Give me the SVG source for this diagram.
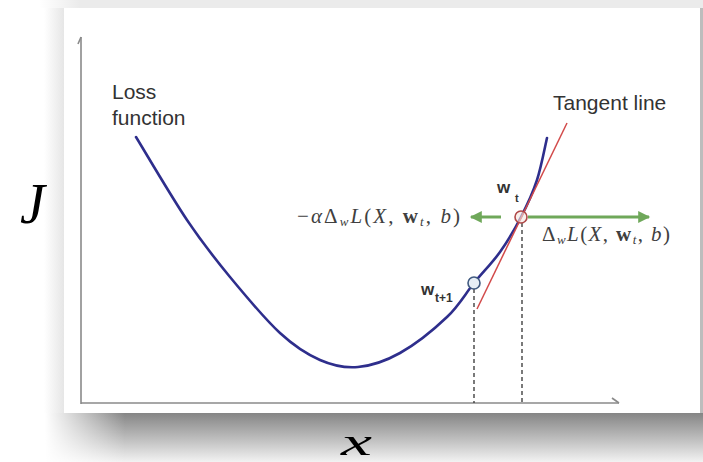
<svg xmlns="http://www.w3.org/2000/svg" width="703" height="462" viewBox="0 0 703 462">
<defs>
<linearGradient id="shadowV" x1="0" y1="0" x2="0" y2="1">
<stop offset="0" stop-color="#858585"/>
<stop offset="0.25" stop-color="#a0a0a0"/>
<stop offset="0.55" stop-color="#c0c0c0"/>
<stop offset="0.8" stop-color="#dcdcdc"/>
<stop offset="1" stop-color="#f2f2f2"/>
</linearGradient>
<linearGradient id="fadeL" x1="0" y1="0" x2="1" y2="0">
<stop offset="0" stop-color="#ffffff" stop-opacity="1"/>
<stop offset="1" stop-color="#ffffff" stop-opacity="0"/>
</linearGradient>
<linearGradient id="leftEdge" x1="0" y1="0" x2="1" y2="0">
<stop offset="0" stop-color="#ffffff"/>
<stop offset="1" stop-color="#e6e6e6"/>
</linearGradient>
<marker id="garrow" viewBox="0 0 10 10" refX="9" refY="5" markerWidth="5" markerHeight="4" orient="auto" markerUnits="strokeWidth">
<path d="M0,0 L10,5 L0,10 Z" fill="#6fa85a"/>
</marker>
<style>
.lbl{font-family:"Liberation Sans",Arial,sans-serif;fill:#333;}
.math{font-family:"Liberation Serif","Times New Roman",serif;fill:#404040;}
.it{font-style:italic;}
.axis{stroke:#8a8a8a;stroke-width:1.6;fill:none;}
.dash{stroke:#333;stroke-width:1.3;stroke-dasharray:4 3;fill:none;}
.garr{stroke:#6fa85a;stroke-width:3;fill:none;}
</style>
</defs>
<!-- background / card -->
<rect x="0" y="0" width="703" height="462" fill="#ffffff"/>
<rect x="40" y="0" width="663" height="8" fill="#ebebeb"/>
<rect x="40" y="0" width="40" height="8" fill="url(#fadeL)"/>
<rect x="44" y="8" width="20" height="405" fill="url(#leftEdge)"/>
<rect x="0" y="413" width="703" height="49" fill="url(#shadowV)"/>
<rect x="0" y="413" width="45" height="49" fill="#ffffff"/>
<rect x="45" y="413" width="80" height="49" fill="url(#fadeL)"/>
<rect x="700" y="8" width="3" height="405" fill="#bdbdbd"/>
<rect x="64" y="8" width="636" height="405" fill="#ffffff"/>

<!-- axes -->
<g id="axes">
<path class="axis" d="M81,404 L81,37"/>
<path class="axis" d="M81,37 L78,44" stroke-width="1"/>
<path class="axis" d="M81,403 L619,403"/>
<path class="axis" d="M619,403 L612,398" stroke-width="1"/>
</g>

<!-- loss curve -->
<g id="loss-curve">
<path d="M136,137 C144.5,150.8 171.3,196.7 187,220 C202.7,243.3 214.5,258.2 230,277 C245.5,295.8 265,319.2 280,333 C295,346.8 307,354.3 320,360 C333,365.7 344.7,368.2 358,367 C371.3,365.8 385.2,361.3 400,353 C414.8,344.7 434.7,328.7 447,317 C459.3,305.3 465.2,293.8 474,283 C482.8,272.2 492.2,263 500,252 C507.8,241 514.8,229 521,217 C527.2,205 532.7,193.2 537,180 C541.3,166.8 545.3,145 547,138" fill="none" stroke="#2e2e8c" stroke-width="2.6" stroke-linecap="round"/>
</g>

<!-- tangent line -->
<g id="tangent-line">
<path d="M567,123 L477,309" stroke="#d24a4a" stroke-width="1.5" fill="none"/>
</g>

<g id="connectors">
<path class="dash" d="M474,289 L474,403"/>
<path class="dash" d="M522,223 L522,403"/>
<path class="garr" d="M528,217 L649,217" marker-end="url(#garrow)"/>
<path class="garr" d="M501,217 L471,217" marker-end="url(#garrow)"/>
</g>

<!-- points -->
<g id="point-wt">
<circle cx="521" cy="217" r="6" fill="#f3e6e0" fill-opacity="0.6" stroke="#b04848" stroke-width="1.6"/>
<text class="lbl" x="497" y="193" font-size="17" font-weight="bold">w</text>
<text class="lbl" x="515" y="202" font-size="11" font-weight="bold">t</text>
</g>
<g id="point-wt1">
<circle cx="474" cy="283" r="6" fill="#e6eef6" stroke="#405a80" stroke-width="1.6"/>
<text class="lbl" x="421" y="295" font-size="17" font-weight="bold">w</text>
<text class="lbl" x="435" y="302" font-size="12" font-weight="bold">t+1</text>
</g>

<!-- labels -->
<g id="label-loss">
<text class="lbl" x="112" y="99" font-size="21">Loss</text>
<text class="lbl" x="112" y="125" font-size="21">function</text>
</g>
<g id="label-tangent">
<text class="lbl" x="553" y="110" font-size="21">Tangent line</text>
</g>
<g id="label-neg-grad">
<text class="math" x="297" y="223" font-size="21" textLength="163" lengthAdjust="spacing">−<tspan class="it">α</tspan>Δ<tspan class="it" font-size="13" dy="3">w</tspan><tspan class="it" dy="-3">L</tspan>(<tspan class="it">X</tspan>, <tspan font-weight="bold">w</tspan><tspan class="it" font-size="13" dy="3">t</tspan><tspan dy="-3">, </tspan><tspan class="it">b</tspan>)</text>
</g>
<g id="label-grad">
<text class="math" x="542" y="241" font-size="21" textLength="128" lengthAdjust="spacing">Δ<tspan class="it" font-size="13" dy="3">w</tspan><tspan class="it" dy="-3">L</tspan>(<tspan class="it">X</tspan>, <tspan font-weight="bold">w</tspan><tspan class="it" font-size="13" dy="3">t</tspan><tspan dy="-3">, </tspan><tspan class="it">b</tspan>)</text>
</g>
<g id="label-J">
<text class="math it" x="20" y="223" font-size="56" style="fill:#000">J</text>
</g>
<g id="label-x">
<text class="math it" x="341" y="455" font-size="38" textLength="31" lengthAdjust="spacingAndGlyphs" style="fill:#000">x</text>
</g>
</svg>
